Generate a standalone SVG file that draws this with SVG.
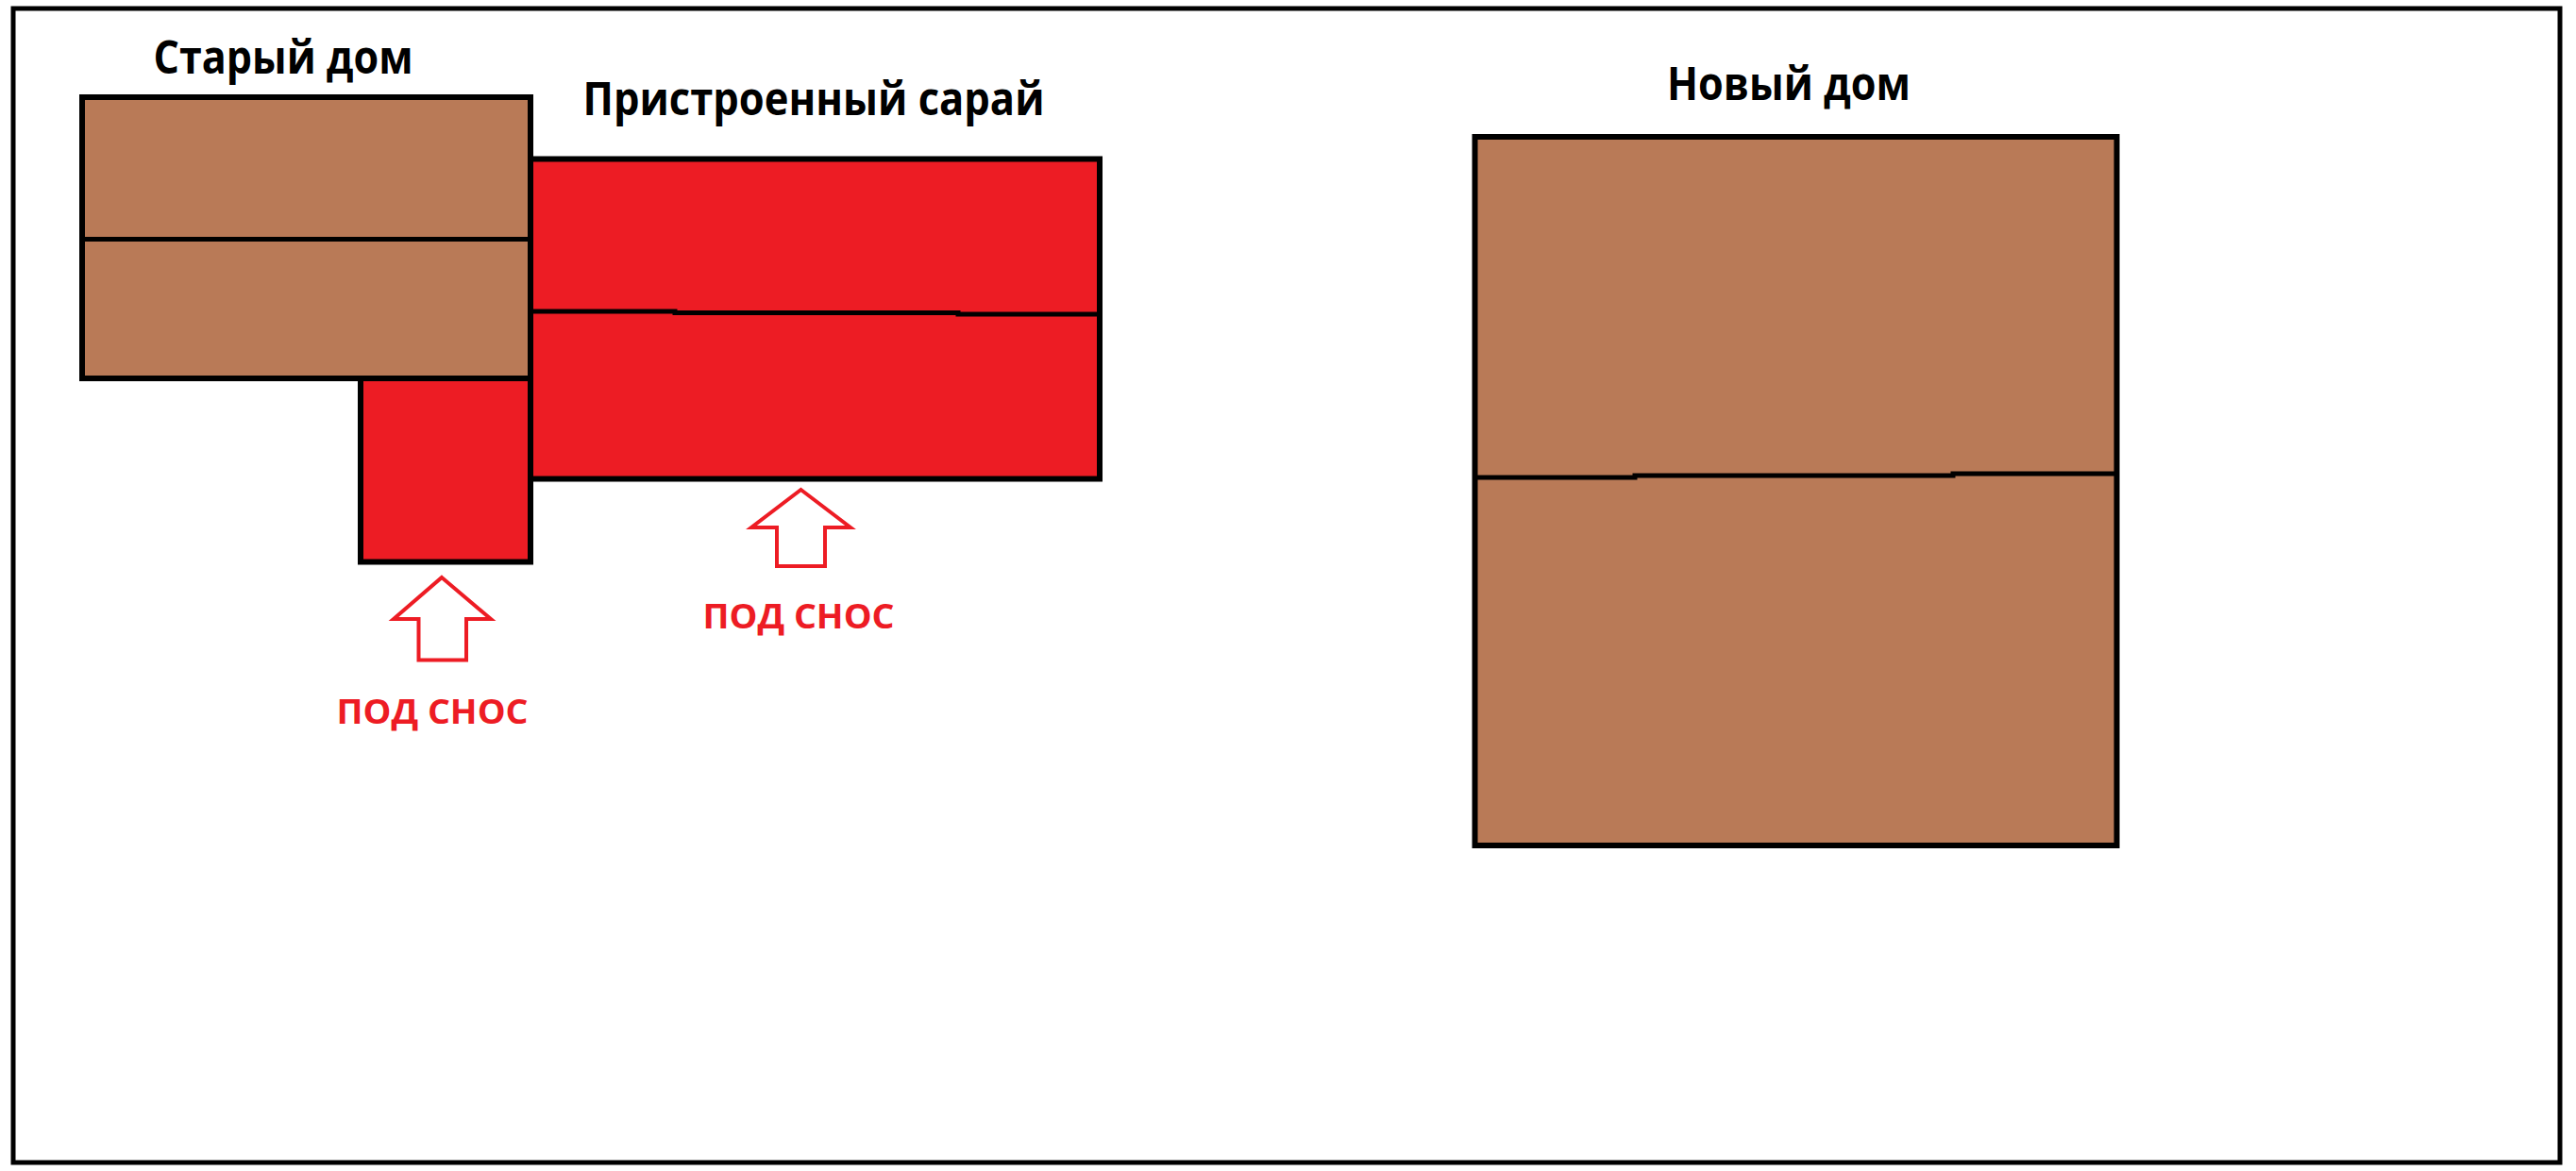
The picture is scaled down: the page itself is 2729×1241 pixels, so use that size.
<svg xmlns="http://www.w3.org/2000/svg" width="2729" height="1241" viewBox="0 0 2729 1241">
  <style>
    .brown { fill: #B97A57; stroke: #000; stroke-width: 6; }
    .red { fill: #ED1C24; stroke: #000; stroke-width: 6; }
    .div { fill: none; stroke: #000; stroke-width: 5; }
    .title { font-family: "Open Sans", "Liberation Sans", sans-serif; font-weight: 700; font-size: 49px; fill: #000; text-anchor: middle; }
    .warn { font-family: "Open Sans", "Liberation Sans", sans-serif; font-weight: 700; font-size: 35px; fill: #ED1C24; text-anchor: middle; }
    .arrow { fill: #fff; stroke: #ED1C24; stroke-width: 4; stroke-linejoin: miter; }
  </style>
  <rect x="0" y="0" width="2729" height="1241" fill="#fff"/>
  <rect id="frame" x="14" y="9" width="2698" height="1223" fill="none" stroke="#000" stroke-width="5"/>

  <g id="old-house">
    <rect class="brown" x="87" y="103" width="475" height="298"/>
    <line class="div" x1="87" y1="253.5" x2="562" y2="253.5"/>
    <text class="title" x="300" y="78" textLength="275" lengthAdjust="spacingAndGlyphs">Старый дом</text>
  </g>

  <g id="annex">
    <rect class="red" x="382" y="401" width="180" height="194.5"/>
  </g>

  <g id="shed">
    <rect class="red" x="562" y="168.5" width="603" height="339"/>
    <polyline class="div" points="562,330 715,330 715,331.5 1015,331.5 1015,333 1165,333"/>
    <text class="title" x="862" y="122" textLength="489" lengthAdjust="spacingAndGlyphs">Пристроенный сарай</text>
  </g>

  <g id="new-house">
    <rect class="brown" x="1562.5" y="145" width="680" height="751"/>
    <polyline class="div" points="1562.5,506 1732,506 1732,504 2069,504 2069,502 2242.5,502"/>
    <text class="title" x="1895" y="106" textLength="258" lengthAdjust="spacingAndGlyphs">Новый дом</text>
  </g>

  <g id="arrows">
    <polygon class="arrow" points="468,612 520,656 494,656 494,699.5 443.5,699.5 443.5,656 417,656"/>
    <polygon class="arrow" points="848.5,519 901,559 874,559 874,600 823,600 823,559 796,559"/>
  </g>

  <g id="labels">
    <text class="warn" x="458" y="767" textLength="203" lengthAdjust="spacingAndGlyphs">ПОД СНОС</text>
    <text class="warn" x="846" y="666" textLength="203" lengthAdjust="spacingAndGlyphs">ПОД СНОС</text>
  </g>
</svg>
